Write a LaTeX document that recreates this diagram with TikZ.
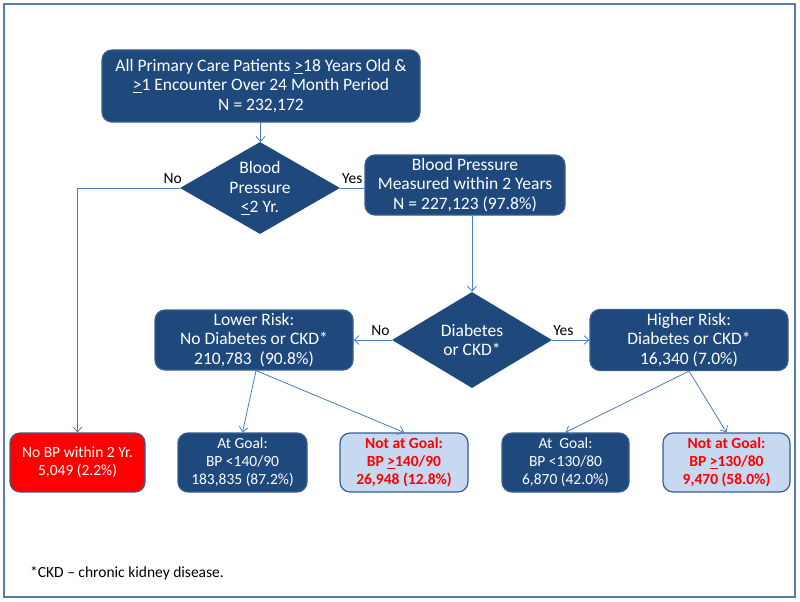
\documentclass[tikz,border=0pt]{standalone}
\usepackage{fontspec}
\setmainfont{Carlito}
\usetikzlibrary{shapes.geometric,arrows.meta}

\definecolor{boxblue}{HTML}{1F497D}
\definecolor{edgeblue}{HTML}{385D8A}
\definecolor{lineblue}{HTML}{4A7EBB}
\definecolor{paleblue}{HTML}{C6D9F1}
\definecolor{alertred}{HTML}{FF0000}

\tikzset{
	flowbox/.style={draw=edgeblue, line width=1.2pt, rounded corners=10pt,
		fill=boxblue, text=white, align=center, inner sep=0pt,
		font=\fontsize{17.5}{19.5}\selectfont},
	smallbox/.style={flowbox, font=\fontsize{15.5}{18}\selectfont},
	alertbox/.style={smallbox, fill=alertred},
	missbox/.style={smallbox, fill=paleblue, text=alertred,
		font=\fontsize{15.5}{18}\selectfont\bfseries},
	decision/.style={diamond, fill=boxblue, inner sep=0pt},
	answer/.style={font=\fontsize{15.5}{18}\selectfont},
	flow/.style={draw=lineblue, line width=0.8pt, -{Straight Barb[length=5pt,width=9pt]}},
}

\begin{document}
\begin{tikzpicture}[x=1pt, y=-1pt]

	% Frame.
	\useasboundingbox (0,0) rectangle (800,602);
	\draw[lineblue!80!gray, line width=1.5pt] (4,4) rectangle (795,597);

	% Top of the flow.
	\node[flowbox, minimum width=318pt, minimum height=72pt] (all_patients) at (261,86)
		{All Primary Care Patients \underline{>}18 Years Old \&\\
		 \underline{>}1 Encounter Over 24 Month Period\\N = 232,172};
	\node[decision, minimum width=160pt, minimum height=92pt,
		label={[align=center, text=white, font=\fontsize{17.5}{19.5}\selectfont]center:Blood\\Pressure\\\underline{<}2 Yr.}]
		(bp_check) at (260,188) {};
	\node[flowbox, minimum width=200pt, minimum height=60pt] (bp_measured) at (465,185)
		{Blood Pressure\\Measured within 2 Years\\N = 227,123 (97.8\%)};

	% Risk split.
	\node[decision, minimum width=160pt, minimum height=96pt,
		label={[align=center, text=white, font=\fontsize{17.5}{19.5}\selectfont]center:Diabetes\\or CKD*}]
		(risk_check) at (472,340) {};
	\node[flowbox, minimum width=198pt, minimum height=60pt] (lower_risk) at (254,340)
		{Lower Risk:\\No Diabetes or CKD*\\210,783~~(90.8\%)};
	\node[flowbox, minimum width=198pt, minimum height=61pt] (higher_risk) at (689,340)
		{Higher Risk:\\Diabetes or CKD*\\16,340 (7.0\%)};

	% Bottom row.
	\node[alertbox, minimum width=135pt, minimum height=59pt] (no_bp) at (77.5,462.5)
		{No BP within 2 Yr.\\5,049 (2.2\%)};
	\node[smallbox, minimum width=129pt, minimum height=59pt] (goal_low) at (242.5,462.5)
		{At Goal:\\BP <140/90\\183,835 (87.2\%)};
	\node[missbox, minimum width=128pt, minimum height=59pt] (miss_low) at (404,462.5)
		{Not at Goal:\\BP \underline{>}140/90\\26,948 (12.8\%)};
	\node[smallbox, minimum width=127pt, minimum height=59pt] (goal_high) at (565.5,462.5)
		{At~~Goal:\\BP <130/80\\6,870 (42.0\%)};
	\node[missbox, minimum width=127pt, minimum height=59pt] (miss_high) at (726.5,462.5)
		{Not at Goal:\\BP \underline{>}130/80\\9,470 (58.0\%)};

	% Footnote.
	\node[answer, anchor=west, inner sep=0pt] (footnote) at (30,573)
		{*CKD -- chronic kidney disease.};

	% Arrows.
	\draw[flow] (all_patients) -- (bp_check);
	\draw[draw=lineblue, line width=0.8pt] (bp_check.east) -- (bp_measured.west |- bp_check.east)
		node[answer, midway, above=1pt] {Yes};
	\draw[flow] (bp_check.west) -| (no_bp.north)
		node[answer, pos=0.035, above=1pt] {No};
	\draw[flow] (risk_check.north |- bp_measured.south) -- (risk_check.north);
	\draw[flow] (risk_check.west) -- (lower_risk.east)
		node[answer, pos=0.3, above=1pt] {No};
	\draw[flow] (risk_check.east) -- (higher_risk.west)
		node[answer, pos=0.3, above=1pt] {Yes};
	\draw[flow] ([xshift=2pt]lower_risk.south) -- (goal_low.north);
	\draw[flow] ([xshift=2pt]lower_risk.south) -- (miss_low.north);
	\draw[flow] (higher_risk.south) -- (goal_high.north);
	\draw[flow] (higher_risk.south) -- (miss_high.north);

\end{tikzpicture}
\end{document}
